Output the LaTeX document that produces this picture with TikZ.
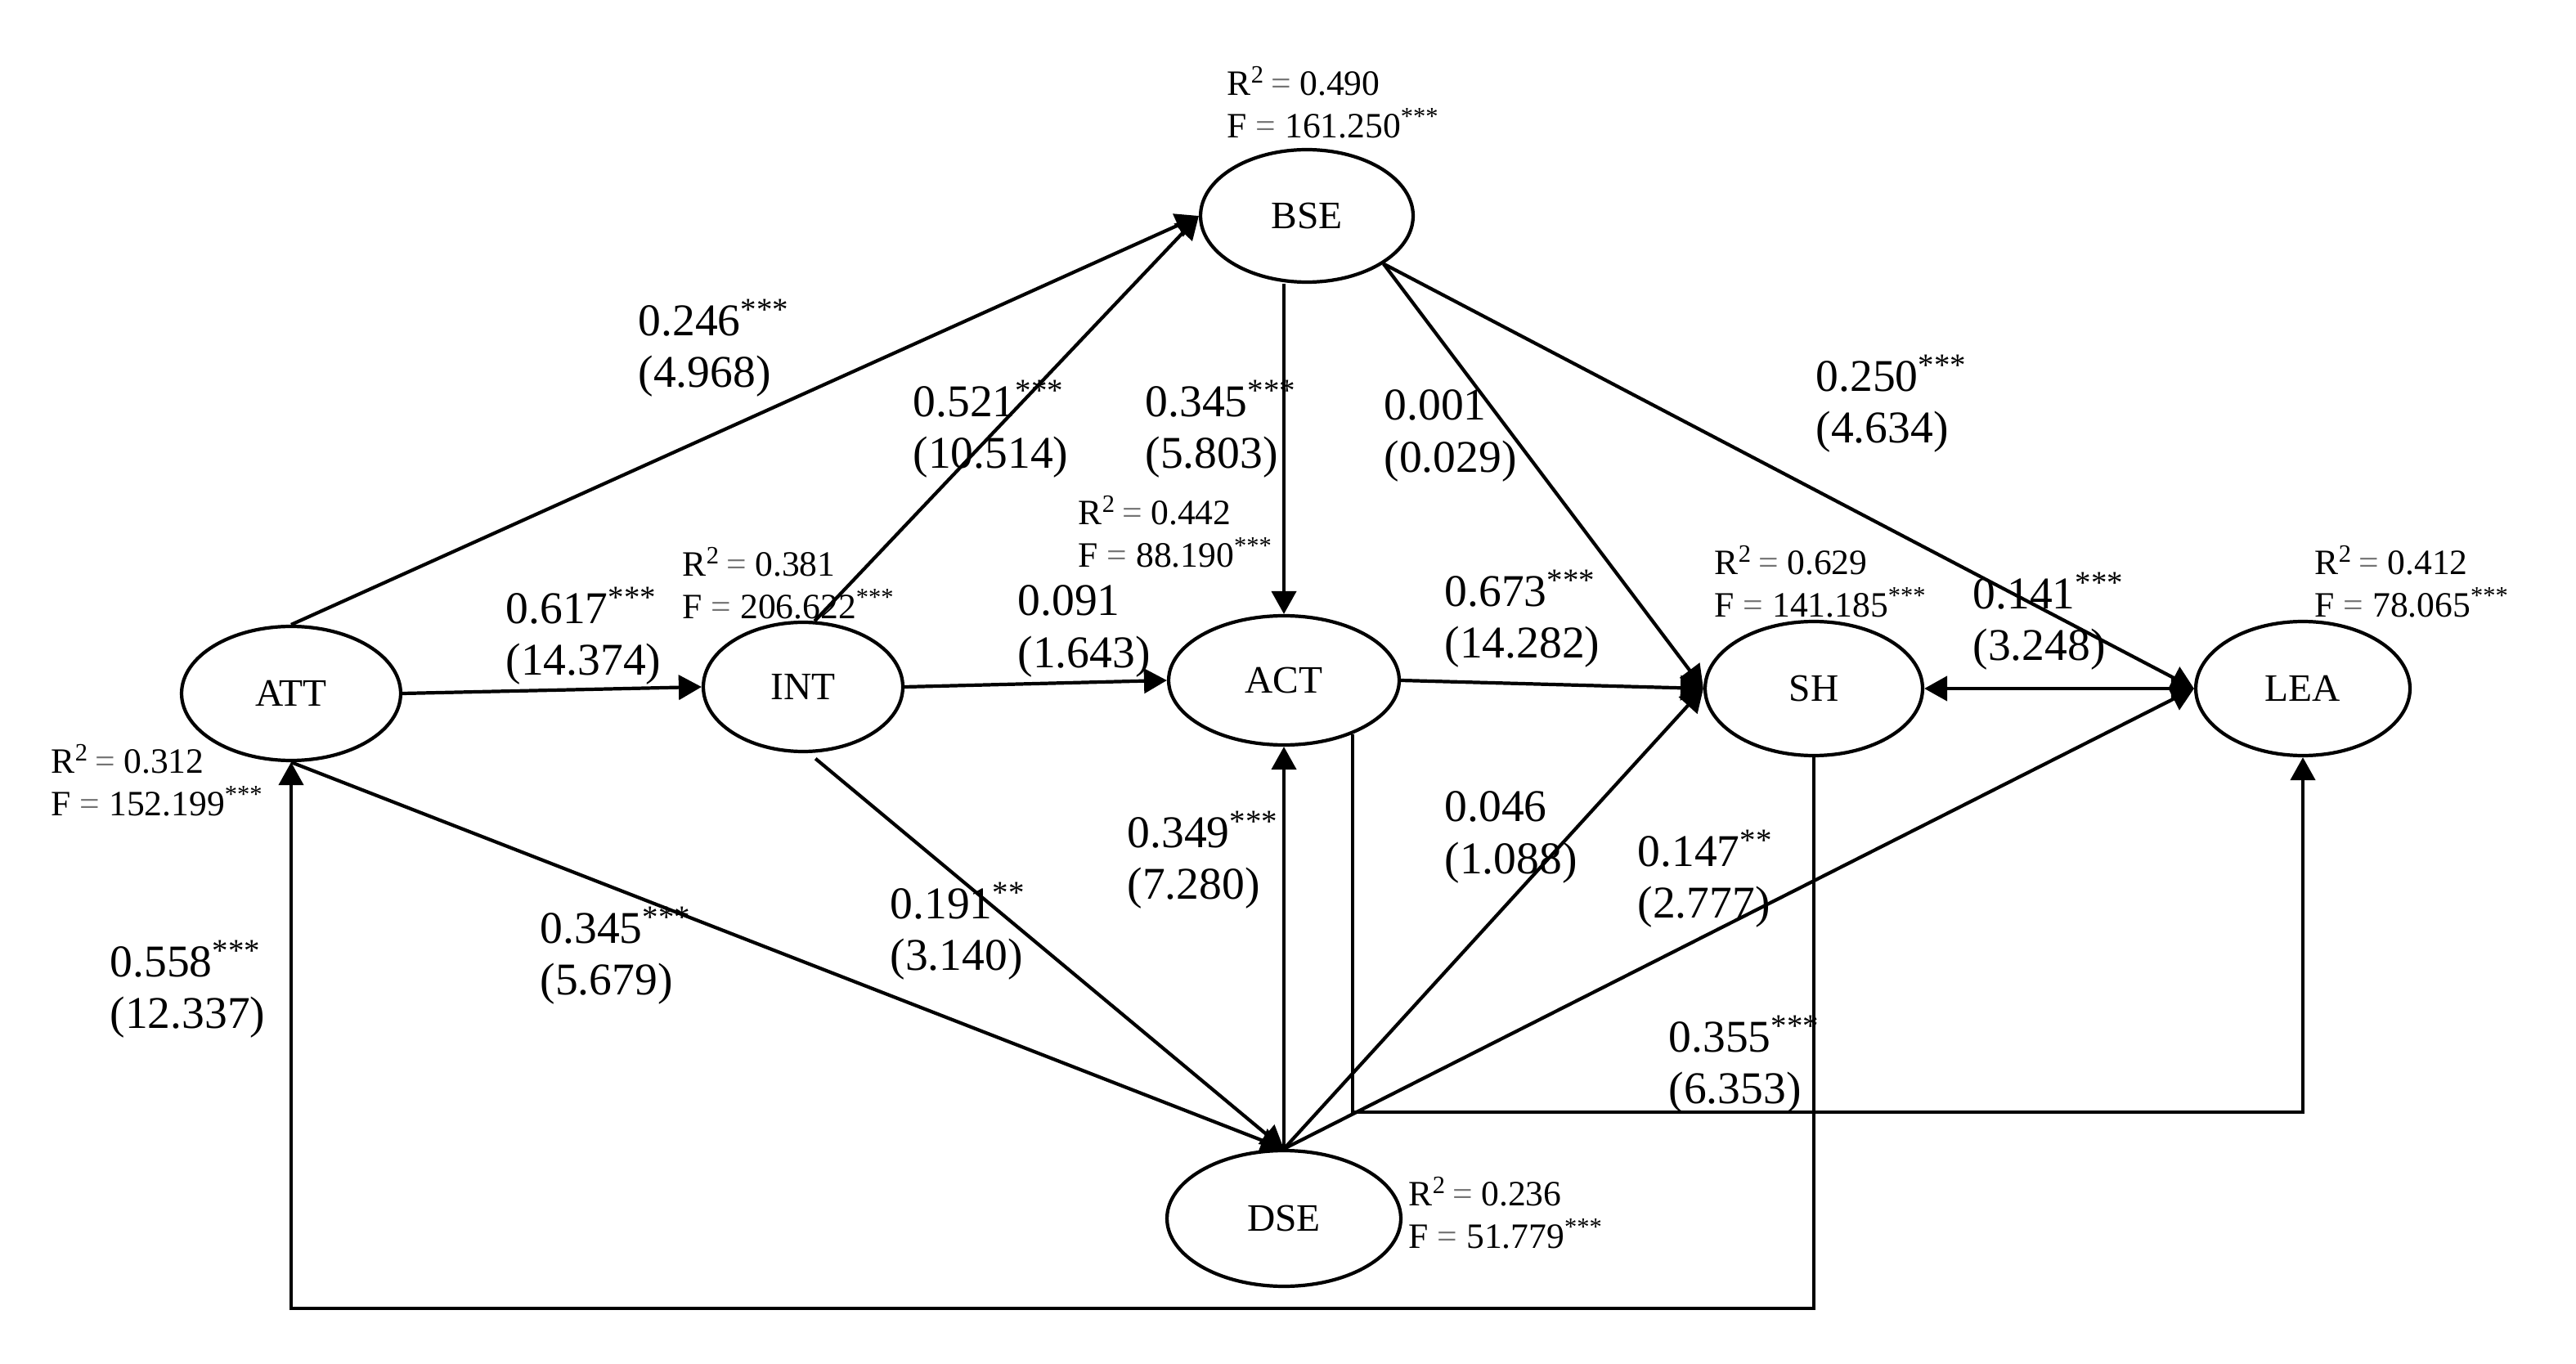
\documentclass[tikz,border=0pt]{standalone}
\usepackage{fontspec}
\setmainfont{Liberation Serif}
\usetikzlibrary{arrows.meta,shapes.geometric}
\tikzset{
  lv/.style={draw, ellipse, line width=1.2pt, inner sep=0pt, font=\fontsize{13.5}{15}\selectfont},
  arr/.style={line width=1.2pt, -{Triangle[length=2.8mm,width=3mm]}},
  dbl/.style={line width=1.2pt, {Triangle[length=2.8mm,width=3mm]}-{Triangle[length=2.8mm,width=3mm]}},
  coef/.style={anchor=west, inner sep=0pt, align=left, font=\fontsize{15.8}{18.2}\selectfont},
  stat/.style={anchor=west, inner sep=0pt, align=left, font=\fontsize{12.4}{14.7}\selectfont},
}
\newcommand{\eqs}{\textcolor{black!55}{=}}
\newcommand{\sig}[1]{\textsuperscript{#1}}
\begin{document}
\begin{tikzpicture}[x=0.02cm,y=-0.02cm]
\fill[white] (0,0) rectangle (1575,834);
\useasboundingbox (0,0) rectangle (1575,834);

% latent variables
\node[lv, minimum width=2.68cm, minimum height=1.64cm] (ATT) at (178,424) {ATT};
\node[lv, minimum width=2.44cm, minimum height=1.58cm] (INT) at (491,420) {INT};
\node[lv, minimum width=2.82cm, minimum height=1.58cm] (ACT) at (785,416) {ACT};
\node[lv, minimum width=2.60cm, minimum height=1.62cm] (BSE) at (799,132) {BSE};
\node[lv, minimum width=2.66cm, minimum height=1.64cm] (SH)  at (1109,421) {SH};
\node[lv, minimum width=2.62cm, minimum height=1.64cm] (LEA) at (1408,421) {LEA};
\node[lv, minimum width=2.86cm, minimum height=1.66cm] (DSE) at (785,745) {DSE};

% R2 / F statistics
\node[stat] (sBSE) at (750,62.5) {R\sig{2}\,\eqs{} 0.490\\F \eqs{} 161.250\sig{***}};
\node[stat] (sINT) at (417,356.5) {R\sig{2}\,\eqs{} 0.381\\F \eqs{} 206.622\sig{***}};
\node[stat] (sACT) at (659,325) {R\sig{2}\,\eqs{} 0.442\\F \eqs{} 88.190\sig{***}};
\node[stat] (sSH)  at (1048,355.5) {R\sig{2}\,\eqs{} 0.629\\F \eqs{} 141.185\sig{***}};
\node[stat] (sLEA) at (1415,355.5) {R\sig{2}\,\eqs{} 0.412\\F \eqs{} 78.065\sig{***}};
\node[stat] (sATT) at (31,477) {R\sig{2}\,\eqs{} 0.312\\F \eqs{} 152.199\sig{***}};
\node[stat] (sDSE) at (861,741.5) {R\sig{2}\,\eqs{} 0.236\\F \eqs{} 51.779\sig{***}};

% helper rows for elbow connectors
\coordinate (rowB) at (0,680);
\coordinate (rowC) at (0,800);

% connectors
\draw[arr] (ATT.north) -- (BSE.west);
\draw[arr] (INT.80) -- (BSE.west);
\draw[arr] (ATT.east) -- (INT.west);
\draw[arr] (INT.east) -- (ACT.west);
\draw[arr] (ACT.north |- BSE.south) -- (ACT.north);
\draw[arr] (BSE.-32) -- (SH.west);
\draw[arr] (BSE.-32) -- (LEA.west);
\draw[arr] (ACT.east) -- (SH.west);
\draw[dbl] (SH.east) -- (LEA.west);
\draw[arr] (ATT.south) -- (DSE.north);
\draw[arr, shorten <=3pt] (INT.-85) -- (DSE.north);
\draw[arr] (DSE.north) -- (ACT.south);
\draw[arr] (DSE.north) -- (SH.west);
\draw[arr] (DSE.north) -- (LEA.west);
\draw[arr] (ACT.-38) |- (rowB -| LEA.south) -- (LEA.south);
\draw[arr] (SH.south) |- (rowC -| ATT.south) -- (ATT.south);

% path coefficients
\node[coef] (c1)  at (390,213)   {0.246\sig{***}\\(4.968)};
\node[coef] (c2)  at (309,389)   {0.617\sig{***}\\(14.374)};
\node[coef] (c3)  at (558,262.5) {0.521\sig{***}\\(10.514)};
\node[coef] (c4)  at (700,262.5) {0.345\sig{***}\\(5.803)};
\node[coef] (c5)  at (846,266.5) {0.001\\(0.029)};
\node[coef] (c6)  at (1110,247)  {0.250\sig{***}\\(4.634)};
\node[coef] (c7)  at (622,386)   {0.091\\(1.643)};
\node[coef] (c8)  at (883,378.5) {0.673\sig{***}\\(14.282)};
\node[coef] (c9)  at (1206,380)  {0.141\sig{***}\\(3.248)};
\node[coef] (c10) at (689,526)   {0.349\sig{***}\\(7.280)};
\node[coef] (c11) at (883,512)   {0.046\\(1.088)};
\node[coef] (c12) at (1001,537.5){0.147\sig{**}\\(2.777)};
\node[coef] (c13) at (544,569.5) {0.191\sig{**}\\(3.140)};
\node[coef] (c14) at (330,584.5) {0.345\sig{***}\\(5.679)};
\node[coef] (c15) at (67,605)    {0.558\sig{***}\\(12.337)};
\node[coef] (c16) at (1020,651)  {0.355\sig{***}\\(6.353)};
\end{tikzpicture}
\end{document}
